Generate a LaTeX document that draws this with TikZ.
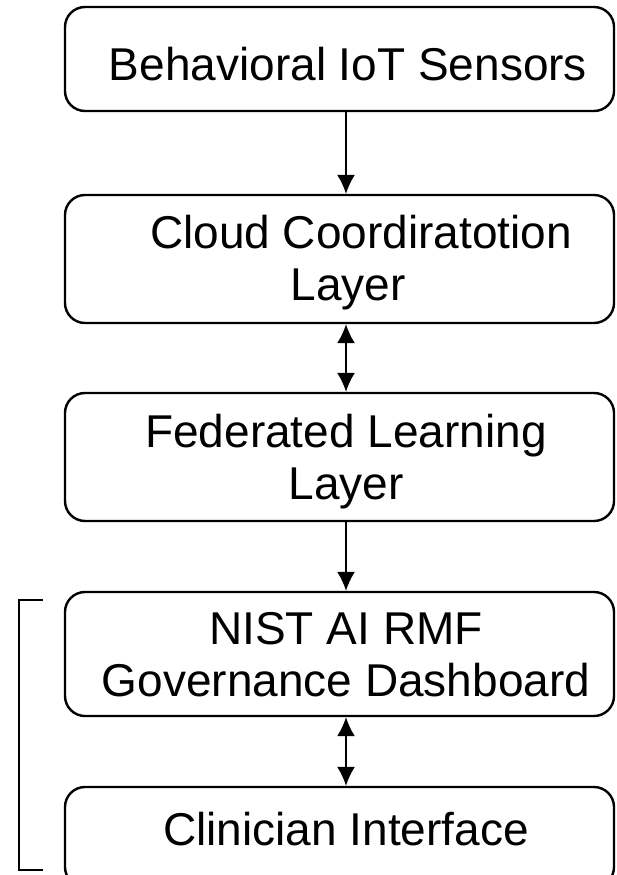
\documentclass[tikz,border=0pt]{standalone}
\usepackage{fontspec}
\setmainfont{Liberation Sans}
\usetikzlibrary{arrows.meta}
\begin{document}
\begin{tikzpicture}[x=1pt,y=-1pt,
  box/.style={draw, line width=2.4pt, rounded corners=20pt, minimum width=549pt, inner sep=0pt},
  lbl/.style={font=\fontsize{46}{52}\selectfont, align=center, inner sep=0pt},
  tip/.tip={Latex[length=19pt,width=18pt]},
  conn/.style={line width=1.6pt, -tip},
  dconn/.style={line width=1.6pt, tip-tip},
  brk/.style={line width=2.4pt}]
\useasboundingbox (0,0) rectangle (616,875);
\clip (0,0) rectangle (616,875);
\fill[white] (0,0) rectangle (616,875);
\node[box, minimum height=104pt] (b1) at (339.5,59) {};
\node[box, minimum height=128pt] (b2) at (339.5,259) {};
\node[box, minimum height=128pt] (b3) at (339.5,457) {};
\node[box, minimum height=124pt] (b4) at (339.5,654) {};
\node[box, minimum height=100pt] (b5) at (339.5,837) {};
\node[lbl] (t1) at (348,64) {Behavioral IoT Sensors};
\node[lbl] (t2) at (348,263) {\hspace*{26pt}Cloud Coordiratotion\\Layer};
\node[lbl] (t3) at (346,462) {Federated Learning\\Layer};
\node[lbl] (t4) at (346,655) {NIST AI RMF\\Governance Dashboard};
\node[lbl] (t5) at (346,829) {Clinician Interface};
\draw[conn] ([xshift=6.5pt]b1.south) -- ([xshift=6.5pt]b2.north);
\draw[dconn] ([xshift=6.5pt]b2.south) -- ([xshift=6.5pt]b3.north);
\draw[conn] ([xshift=6.5pt]b3.south) -- ([xshift=6.5pt]b4.north);
\draw[dconn] ([xshift=6.5pt]b4.south) -- ([xshift=6.5pt]b5.north);
\coordinate (k1) at (43,600);
\coordinate (k2) at (19,600);
\coordinate (k3) at (19,870);
\coordinate (k4) at (43,870);
\draw[brk] (k1) -- (k2) -- (k3) -- (k4);
\end{tikzpicture}
\end{document}
